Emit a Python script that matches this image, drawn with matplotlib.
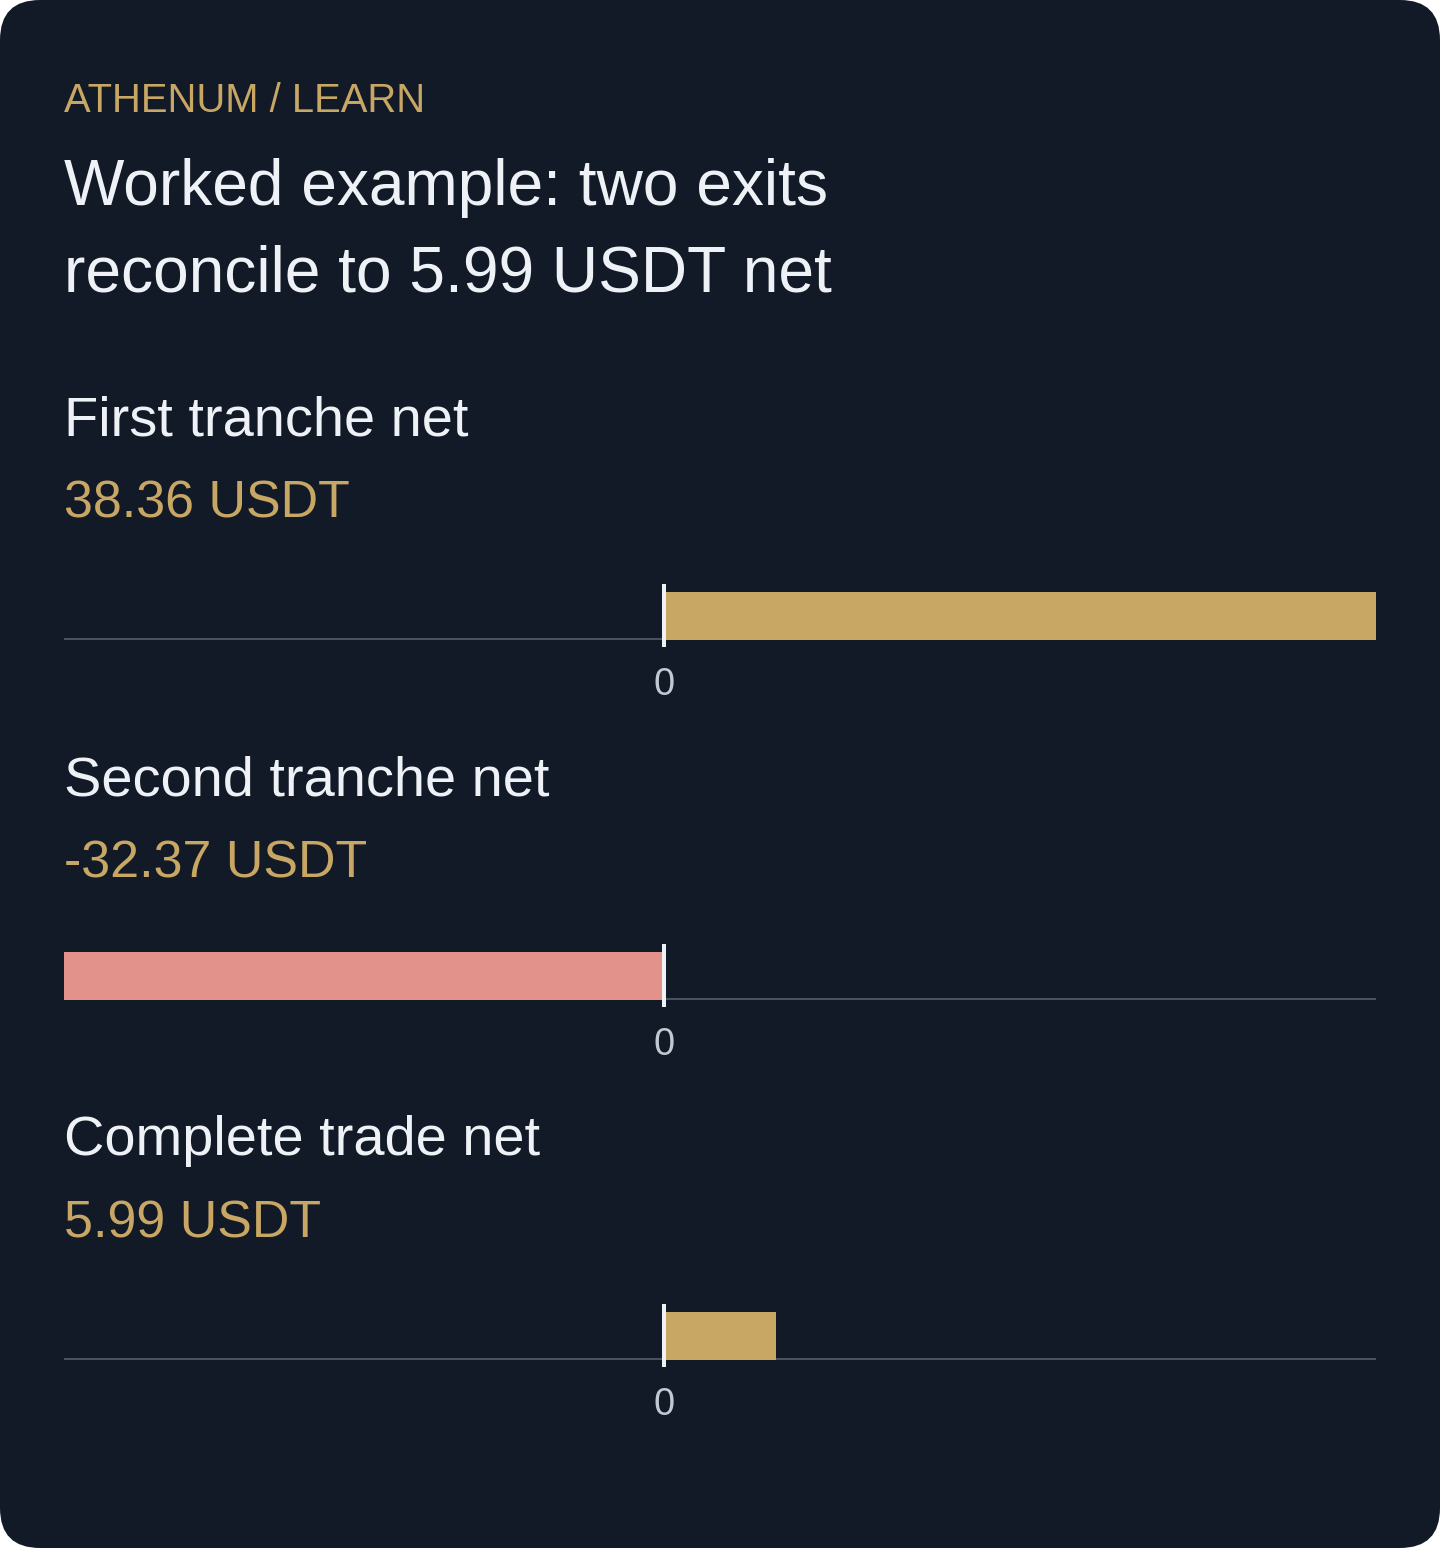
import matplotlib
matplotlib.use('Agg')
import matplotlib.pyplot as plt
from matplotlib.patches import FancyBboxPatch

plt.rcParams['font.family'] = ['Liberation Sans', 'DejaVu Sans']

# data
labels = ['First tranche net', 'Second tranche net', 'Complete trade net']
values = [38.36, -32.37, 5.99]
value_texts = ['38.36 USDT', '-32.37 USDT', '5.99 USDT']
kicker = 'ATHENUM / LEARN'
title_lines = ['Worked example: two exits', 'reconcile to 5.99 USDT net']

BG = '#131a27'
GOLD = '#c8a764'
PINK = '#e2918b'
WHITE = '#eef2f7'
GRID = '#5b6472'
TICK = '#c3c9d2'

W, H = 1440, 1548
DPI = 100


def px(v):
    return v * 72 / DPI


fig = plt.figure(figsize=(W / DPI, H / DPI), dpi=DPI, facecolor='white')
card = FancyBboxPatch((0, 0), W, H, boxstyle='round,pad=0,rounding_size=40',
                      transform=None, facecolor=BG, edgecolor='none', zorder=-10)
fig.patches.append(card)


def ftext(x, y, s, **kw):
    fig.text(x / W, 1 - y / H, s, va='baseline', ha='left', **kw)


ftext(64, 112, kicker, color=GOLD, fontsize=px(40))
ftext(64, 205, title_lines[0], color=WHITE, fontsize=px(64))
ftext(64, 292, title_lines[1], color=WHITE, fontsize=px(64))

lo = min(0, min(values))
hi = max(0, max(values))
left, right = 64, 1376

for i, (lab, val, vt) in enumerate(zip(labels, values, value_texts)):
    off = 360 * i
    ftext(64, 435 + off, lab, color=WHITE, fontsize=px(56))
    ftext(64, 517 + off, vt, color=GOLD, fontsize=px(52))

    top, bot = 584 + off, 647 + off
    ax = fig.add_axes([left / W, 1 - bot / H, (right - left) / W, (bot - top) / H])
    ax.set_facecolor('none')
    ax.set_xlim(lo, hi)
    ax.set_ylim(0, bot - top)
    ax.barh(7.5 + 47.5 / 2, val, height=47.5, left=0,
            color=GOLD if val >= 0 else PINK, zorder=2)
    ax.axhline(8, color=GRID, lw=px(1.5), zorder=1)
    ax.axvline(0, color=WHITE, lw=px(4), zorder=3)
    ax.set_xticks([0])
    ax.set_xticklabels(['0'])
    ax.tick_params(axis='x', length=0, pad=px(20), labelsize=px(38), labelcolor=TICK)
    ax.set_yticks([])
    for s in ax.spines.values():
        s.set_visible(False)

fig.savefig('out.png', dpi=DPI, facecolor='white')
